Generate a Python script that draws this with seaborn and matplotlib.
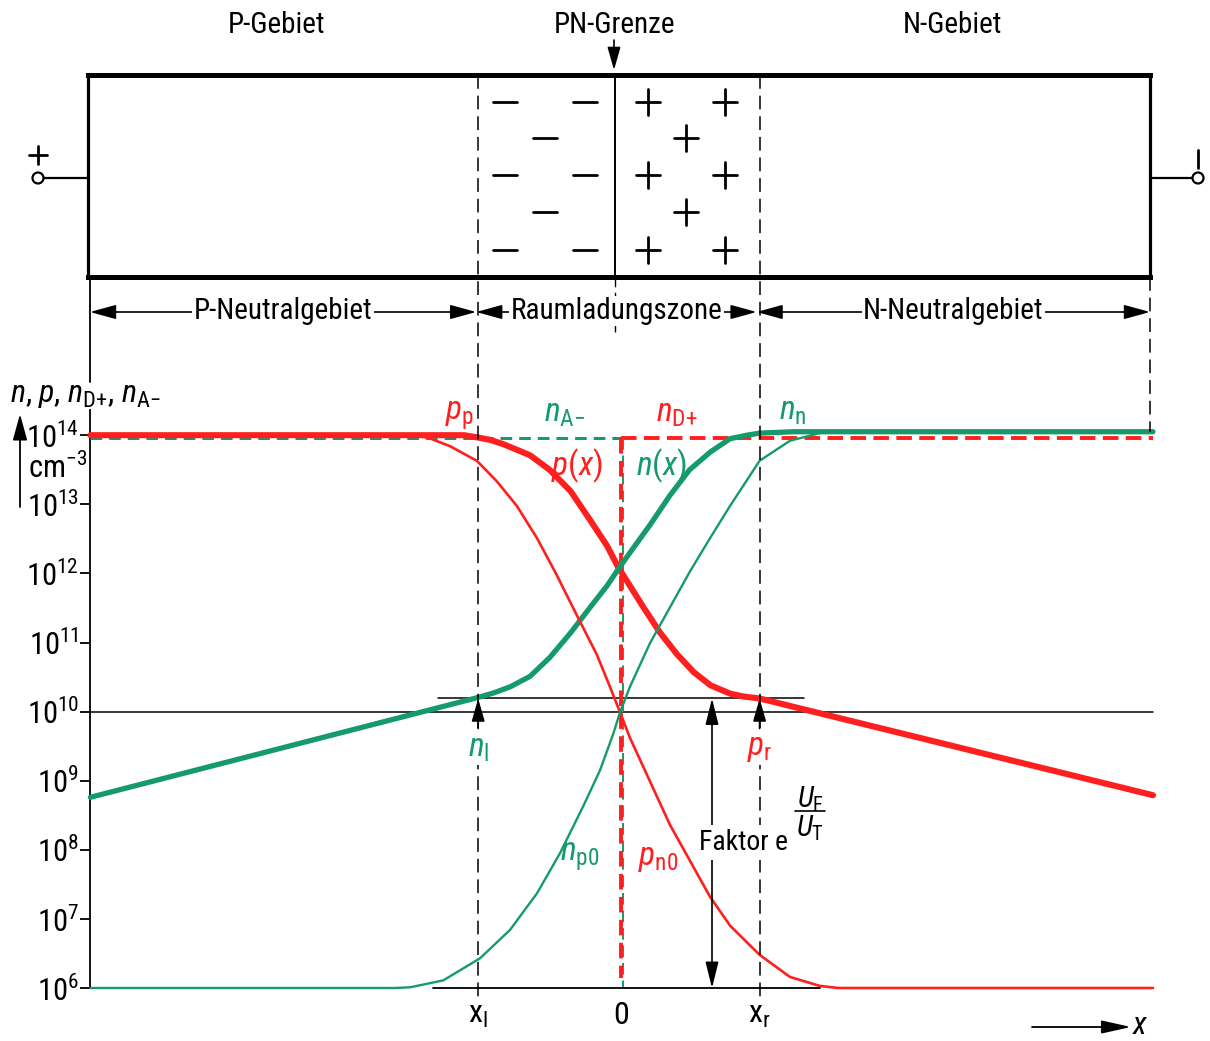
import numpy as np
import matplotlib
matplotlib.use("Agg")
import matplotlib.pyplot as plt
from matplotlib import font_manager as fm
import seaborn as sns

# === Data: x in units (x_l ~ -1, x_r ~ +1), values as log10(cm^-3) ===
p_thick_u = [-3.79, -1.12, -1.03, -0.93, -0.84, -0.65, -0.51, -0.36, -0.22, -0.10, -0.02, 0.064,
             0.16, 0.28, 0.40, 0.52, 0.64, 0.78, 0.87, 0.99, 3.80]
p_thick_log = [14.0, 14.0, 13.97, 13.93, 13.87, 13.71, 13.50, 13.19, 12.77, 12.40, 12.09, 11.82,
               11.51, 11.14, 10.83, 10.57, 10.38, 10.26, 10.22, 10.19, 8.79]

n_thick_u = [-3.79, -1.03, -0.91, -0.79, -0.65, -0.51, -0.36, -0.22, -0.10, -0.02, 0.064, 0.21,
             0.35, 0.49, 0.64, 0.78, 0.90, 0.99, 1.23, 3.80]
n_thick_log = [8.76, 10.20, 10.27, 10.36, 10.51, 10.78, 11.14, 11.51, 11.82, 12.06, 12.30, 12.71,
               13.13, 13.50, 13.76, 13.95, 14.0, 14.03, 14.05, 14.05]

pn0_u = [-1.45, -1.36, -1.22, -1.03, -0.89, -0.745, -0.60, -0.46, -0.317, -0.174, -0.079,
         -0.007, 0.064, 0.207, 0.35, 0.493, 0.636, 0.78, 0.99, 1.207, 1.42, 1.55, 3.80]
pn0_log = [14.0, 13.95, 13.84, 13.63, 13.34, 12.98, 12.51, 11.98, 11.40, 10.83, 10.36,
           9.99, 9.62, 8.99, 8.36, 7.84, 7.32, 6.90, 6.48, 6.16, 6.03, 6.0, 6.0]

np0_u = [-3.79, -1.62, -1.507, -1.27, -1.007, -0.793, -0.60, -0.436, -0.27, -0.15, -0.055,
         -0.007, 0.064, 0.207, 0.35, 0.493, 0.636, 0.78, 0.99, 1.207, 1.42]
np0_log = [6.0, 6.0, 6.01, 6.11, 6.43, 6.84, 7.37, 7.95, 8.63, 9.15, 9.68,
           9.99, 10.36, 10.99, 11.51, 12.03, 12.51, 12.98, 13.63, 13.92, 14.03]

doping_log = 13.96      # n_A- / n_D+
ni_log = 10.0           # intrinsic level
nl_log = 10.19          # n_l = p_r level
base_log = 6.0          # n_p0 / p_n0 far from junction
XL, X0, XR = -1.02, 0.0, 0.99
faktor_u = 0.65

ytick_exp = list(range(6, 15))
xtick_pos = [XL, X0, XR]
xtick_lab = [r"$\mathregular{x_l}$", r"$\mathregular{0}$", r"$\mathregular{x_r}$"]

RED = "#ff1f1f"
GREEN = "#159a6c"

# pick a narrow sans if there is one
names = {f.name for f in fm.fontManager.ttflist}
FONT = next((n for n in ["Roboto Condensed", "Liberation Sans Narrow", "Liberation Sans"] if n in names),
            "DejaVu Sans")
FS = 21 if "Narrow" in FONT or "Condensed" in FONT else 18

sns.set_theme(style="white")
plt.rcParams["font.family"] = [FONT, "DejaVu Sans"]
plt.rcParams["mathtext.fontset"] = "custom"
plt.rcParams["mathtext.rm"] = FONT
plt.rcParams["mathtext.it"] = FONT + ":italic"
plt.rcParams["mathtext.bf"] = FONT + ":bold"
plt.rcParams["text.color"] = "black"
plt.rcParams["ytick.color"] = "black"

# pixel geometry of the chart
X0_PX, PX_U = 621, 140.0
Y6_PX, PX_DEC = 988, 69.1
W, H = 1210, 1041
left_px, right_px, top_px = 90, 1153, 400


def px(u):
    return X0_PX + PX_U * u


def py(v):
    return Y6_PX - (v - 6) * PX_DEC


def arrow(axis, tip, tail, style="-|>", hl=0.7, hw=0.2, lw=1.2, z=2):
    axis.annotate("", xy=tip, xytext=tail, zorder=z,
                  arrowprops=dict(arrowstyle=f"{style},head_length={hl},head_width={hw}",
                                  color="black", lw=lw, shrinkA=0, shrinkB=0, mutation_scale=20))


fig = plt.figure(figsize=(W / 100, H / 100), dpi=100)
fig.patch.set_facecolor("white")
ax = fig.add_axes([left_px / W, 1 - Y6_PX / H, (right_px - left_px) / W, (Y6_PX - top_px) / H])
ax.set_facecolor("none")
ax.set_yscale("log")
ax.set_xlim((left_px - X0_PX) / PX_U, (right_px - X0_PX) / PX_U)
ax.set_ylim(1e6, 10 ** (6 + (Y6_PX - top_px) / PX_DEC))

# === curves ===
sns.lineplot(x=p_thick_u, y=10 ** np.array(p_thick_log), ax=ax, color=RED, linewidth=4.4,
             estimator=None, sort=False, clip_on=False, zorder=4)
sns.lineplot(x=n_thick_u, y=10 ** np.array(n_thick_log), ax=ax, color=GREEN, linewidth=3.8,
             estimator=None, sort=False, clip_on=False, zorder=4)
sns.lineplot(x=pn0_u, y=10 ** np.array(pn0_log), ax=ax, color=RED, linewidth=1.9,
             estimator=None, sort=False, clip_on=False, zorder=5)
sns.lineplot(x=np0_u, y=10 ** np.array(np0_log), ax=ax, color=GREEN, linewidth=1.7,
             estimator=None, sort=False, clip_on=False, zorder=5)

# doping levels (dashed)
ax.plot([ax.get_xlim()[0], X0], [10 ** doping_log] * 2, color=GREEN, lw=2.2,
        ls=(0, (3.8, 2.3)), clip_on=False, zorder=3)
ax.plot([X0, ax.get_xlim()[1]], [10 ** doping_log] * 2, color=RED, lw=2.8,
        ls=(0, (4.0, 1.9)), clip_on=False, zorder=3)
ax.plot([X0 + 0.012, X0 + 0.012], [10 ** doping_log, 10 ** base_log], color=GREEN, lw=1.4,
        ls=(0, (6, 3)), clip_on=False, zorder=3)
ax.plot([X0, X0], [10 ** doping_log, 10 ** 6.15], color=RED, lw=2.8,
        ls=(0, (4.0, 1.9)), clip_on=False, zorder=3)

# horizontal reference lines
ax.plot(ax.get_xlim(), [10 ** ni_log] * 2, color="black", lw=1.1, clip_on=False, zorder=2)
ax.plot([-1.31, 1.31], [10 ** nl_log] * 2, color="black", lw=1.1, clip_on=False, zorder=2)
ax.plot([-1.34, 1.42], [10 ** base_log] * 2, color="black", lw=1.3, clip_on=False, zorder=6)

# axes styling
for s in ["top", "right", "bottom"]:
    ax.spines[s].set_visible(False)
ax.spines["left"].set_color("black")
ax.spines["left"].set_linewidth(1.3)
ax.spines["left"].set_bounds(1e6, 10 ** 14.36)
ax.set_yticks([10.0 ** e for e in ytick_exp])
ax.set_yticklabels([r"$\mathregular{10^{%d}}$" % e for e in ytick_exp])
ax.yaxis.set_minor_locator(matplotlib.ticker.NullLocator())
ax.tick_params(axis="y", direction="out", length=7, width=1.3, pad=1, labelsize=FS + 1,
               colors="black", left=True)
ax.set_xticks([])
ax.grid(False)

# === overlay in pixel coordinates ===
ov = fig.add_axes([0, 0, 1, 1], zorder=5)
ov.set_xlim(0, W)
ov.set_ylim(H, 0)
ov.axis("off")

# semiconductor box
bx0, bx1, by0, by1 = 88, 1150, 75, 277
ov.plot([bx0, bx1], [by0, by0], color="black", lw=3.6, solid_capstyle="projecting")
ov.plot([bx0, bx1], [by1, by1], color="black", lw=3.6, solid_capstyle="projecting")
ov.plot([bx0, bx0], [by0, by1], color="black", lw=2.3)
ov.plot([bx1, bx1], [by0, by1], color="black", lw=2.3)
ov.plot([615, 615], [by0, by1], color="black", lw=1.4)
ov.plot([615, 615], [by1, 332], color="black", lw=1.0, ls=(0, (7, 4)))

dash_v = (0, (9, 4.5))
for u in [XL, XR]:
    ov.plot([px(u), px(u)], [by0, 1003], color="black", lw=1.1, ls=dash_v, zorder=1)
ov.plot([bx1, bx1], [by1, py(14.04)], color="black", lw=1.1, ls=dash_v)
ov.plot([left_px, left_px], [by1, 382], color="black", lw=1.3)

# space charges
minus_x = [505, 585, 545, 505, 585, 545, 505, 585]
minus_y = [102, 102, 138, 175, 175, 212, 250, 250]
plus_x = [648, 725, 686, 648, 725, 686, 648, 725]
plus_y = [102, 102, 138, 175, 175, 212, 250, 250]
for x, y in zip(minus_x, minus_y):
    ov.plot([x - 12, x + 12], [y, y], color="black", lw=2.0)
for x, y in zip(plus_x, plus_y):
    ov.plot([x - 12, x + 12], [y, y], color="black", lw=2.0)
    ov.plot([x, x], [y - 13, y + 13], color="black", lw=2.0)

# terminals
ov.plot([44, bx0], [178, 178], color="black", lw=1.6)
ov.plot([bx1, 1192], [178, 178], color="black", lw=1.6)
ov.add_patch(plt.Circle((38, 178), 5.5, fill=False, lw=1.6, color="black"))
ov.add_patch(plt.Circle((1198, 178), 5.5, fill=False, lw=1.6, color="black"))
ov.plot([29, 47], [155, 155], color="black", lw=2.0)
ov.plot([38, 38], [146, 164], color="black", lw=2.0)
ov.plot([1198, 1198], [150, 168], color="black", lw=2.0)

# headings
ov.text(277, 25, "P-Gebiet", ha="center", va="center", fontsize=FS)
ov.text(614, 25, "PN-Grenze", ha="center", va="center", fontsize=FS)
ov.text(952, 25, "N-Gebiet", ha="center", va="center", fontsize=FS)
arrow(ov, (614, 70), (614, 40))

# region dimension arrows
dim = [(left_px, px(XL) - 2, "P-Neutralgebiet"),
       (px(XL) - 2, px(XR) - 3, "Raumladungszone"),
       (px(XR) - 3, bx1, "N-Neutralgebiet")]
for a, b, lab in dim:
    arrow(ov, (b, 312), (a, 312), style="<|-|>", hl=0.8, hw=0.22)
    ov.text((a + b) / 2, 311, lab, ha="center", va="center", fontsize=FS,
            bbox=dict(facecolor="white", edgecolor="none", pad=1.0))

# axis titles
ov.text(10, 395, r"$n$, $p$, $n_{\mathrm{D}{+}}$, $n_{\mathrm{A}{-}}$", ha="left", va="center",
        fontsize=FS + 2)
arrow(ov, (20, 414), (20, 507), hl=0.8, hw=0.22, lw=1.3)
ov.text(58, 468, r"$\mathregular{cm^{-3}}$", ha="center", va="center", fontsize=FS + 1)

for u, lab in zip(xtick_pos, xtick_lab):
    ov.text(px(u), 1016, lab, ha="center", va="center", fontsize=FS + 2)
arrow(ov, (1131, 1027), (1032, 1027), hl=0.9, hw=0.2, lw=1.3)
ov.text(1140, 1025, r"$x$", ha="center", va="center", fontsize=FS + 2)

# n_l / p_r arrows and factor arrow
for u in [XL, XR]:
    arrow(ov, (px(u), py(nl_log)), (px(u), py(nl_log) + 30))
arrow(ov, (px(faktor_u), py(nl_log)), (px(faktor_u), py(base_log)), style="<|-|>", hl=0.8, z=1)
ov.text(699, 850, "Faktor e", ha="left", va="baseline", fontsize=FS - 1,
        bbox=dict(facecolor="white", edgecolor="none", pad=3))
ov.text(810, 807, r"$U_\mathrm{F}$", ha="center", va="baseline", fontsize=FS)
ov.plot([795, 825], [810.5, 810.5], color="black", lw=1.2)
ov.text(810, 836, r"$U_\mathrm{T}$", ha="center", va="baseline", fontsize=FS)

# curve labels
lab_kw = dict(ha="center", va="center", fontsize=FS + 3)
ov.text(460, 416, r"$p_\mathrm{p}$", color=RED, **lab_kw)
ov.text(565, 413, r"$n_{\mathrm{A}{-}}$", color=GREEN, **lab_kw)
ov.text(677, 413, r"$n_{\mathrm{D}{+}}$", color=RED, **lab_kw)
ov.text(793, 411, r"$n_\mathrm{n}$", color=GREEN, **lab_kw)
ov.text(577, 466, r"$p(x)$", color=RED, **lab_kw)
ov.text(661, 466, r"$n(x)$", color=GREEN, **lab_kw)
ov.text(580, 857, r"$n_{\mathrm{p0}}$", color=GREEN, **lab_kw)
ov.text(658, 858, r"$p_{\mathrm{n0}}$", color=RED, **lab_kw)
ov.text(px(XL), 748, r"$n_\mathrm{l}$", color=GREEN,
        bbox=dict(facecolor="white", edgecolor="none", pad=0.5), **lab_kw)
ov.text(px(XR), 748, r"$p_\mathrm{r}$", color=RED,
        bbox=dict(facecolor="white", edgecolor="none", pad=0.5), **lab_kw)

fig.savefig("out.png", dpi=100, facecolor="white")
